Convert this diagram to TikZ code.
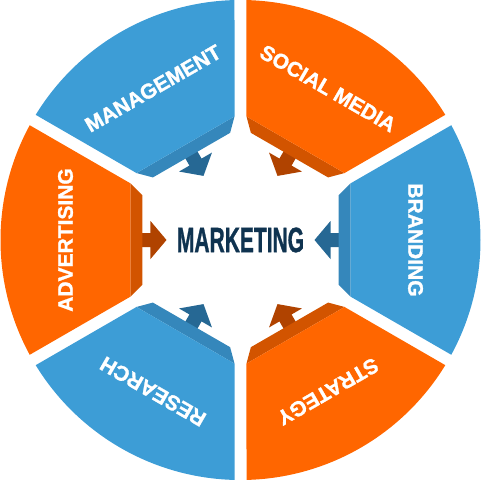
\documentclass[tikz,border=0pt]{standalone}
\usepackage{fontspec}
\setmainfont{Liberation Sans}
\newfontfamily\heavyfont[FakeBold=1.3]{Liberation Sans Bold}
\definecolor{bface}{HTML}{3D9DD6}
\definecolor{bstrip}{HTML}{3587BB}
\definecolor{barrow}{HTML}{266894}
\definecolor{oface}{HTML}{FF6600}
\definecolor{ostrip}{HTML}{D25400}
\definecolor{oarrow}{HTML}{B04300}
\definecolor{navy}{HTML}{0F3350}
\tikzset{
  seglabel/.style={text=white,font=\heavyfont\fontsize{21}{21}\selectfont,inner sep=0pt},
  centerlabel/.style={text=navy,font=\heavyfont\fontsize{35}{35}\selectfont,inner sep=0pt},
}
\newcommand\mksegment[6]{%
  \begin{scope}[rotate=#1]
    \fill[#4] (74,0) -- (90,19) -- (90,7) -- (99,7) -- (99,-7) -- (90,-7) -- (90,-19) -- cycle;
    \fill[#3] (98,-44.6) -- (110,-56.6) -- (110,56.6) -- (98,44.6) -- cycle;
    \fill[#2] (110,-56.6) -- (210.78,-114.76) arc[start angle=-28.57,end angle=28.57,radius=240] -- (110,56.6) -- cycle;
  \end{scope}
  \node[seglabel,rotate=#1-90] (#5) at (#1:175) {#6};
}
\begin{document}
\begin{tikzpicture}[x=1pt,y=1pt]
\useasboundingbox (-240.5,-240) rectangle (240.5,240);
\mksegment{120}{bface}{bstrip}{barrow}{mgmt}{MANAGEMENT}
\mksegment{60}{oface}{ostrip}{oarrow}{social}{SOCIAL MEDIA}
\mksegment{0}{bface}{bstrip}{barrow}{brand}{BRANDING}
\mksegment{-60}{oface}{ostrip}{oarrow}{strat}{STRATEGY}
\mksegment{-120}{bface}{bstrip}{barrow}{research}{RESEARCH}
\mksegment{180}{oface}{ostrip}{oarrow}{advert}{ADVERTISING}
\node[centerlabel] (mkt) at (0,0) {\scalebox{0.6}[1]{MARKETING}};
\end{tikzpicture}
\end{document}
